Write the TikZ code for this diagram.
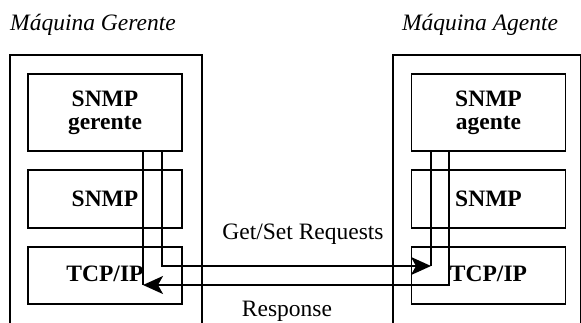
\documentclass[tikz,border=0pt]{standalone}
\usepackage{fontspec}
\setmainfont{Liberation Serif}
\usetikzlibrary{arrows.meta}
\begin{document}
\begin{tikzpicture}[x=1pt,y=-1pt,
  every node/.style={font=\fontsize{23.5}{26}\selectfont},
  layer/.style={draw,line width=1.8pt,minimum width=154pt,inner sep=0pt,font=\fontsize{23.5}{26}\selectfont\bfseries,align=center},
  machine/.style={draw,line width=1.8pt,inner sep=0pt,anchor=north west},
  link/.style={line width=1.8pt},
  arr/.style={link,-{Stealth[length=20pt,width=18pt,inset=5pt]}},
  title/.style={font=\fontsize{23.5}{26}\selectfont\itshape}]
\path[use as bounding box,clip] (0,0) rectangle (581,322);
% outer machines (open at the bottom)
\node[machine,minimum width=192pt,minimum height=300pt] (mg) at (9,54) {};
\node[machine,minimum width=188pt,minimum height=300pt] (ma) at (392,54) {};
\node[title] (tg) at (93,25) {Máquina Gerente};
\node[title] (ta) at (480,25) {Máquina Agente};
% manager layers
\node[layer,minimum height=77pt] (g1) at (105,112.5) {SNMP\\[-3pt]gerente};
\node[layer,minimum height=58pt] (g2) at (105,199) {SNMP};
\node[layer,minimum height=57pt] (g3) at (105,275.5) {\raisebox{3pt}{TCP/IP}};
% agent layers
\node[layer,minimum height=77pt] (a1) at (488.5,112.5) {SNMP\\[-3pt]agente};
\node[layer,minimum height=58pt] (a2) at (488.5,199) {SNMP};
\node[layer,minimum height=57pt] (a3) at (488.5,275.5) {\raisebox{3pt}{TCP/IP}};
% connector corners
\coordinate (reqend) at (431,266);
\coordinate (rspend) at (143,285);
% requests
\draw[arr] ([xshift=57pt]g1.south) |- (reqend);
\draw[link] ([xshift=-57.5pt]a1.south) -- (reqend);
% response
\draw[arr] ([xshift=-39.5pt]a1.south) |- (rspend);
\draw[link] ([xshift=38pt]g1.south) -- (rspend);
% labels
\node[font=\fontsize{23.5}{26}\selectfont] (lreq) at (303,234) {Get/Set Requests};
\node[font=\fontsize{23.5}{26}\selectfont] (lrsp) at (287,311) {Response};
\end{tikzpicture}
\end{document}
